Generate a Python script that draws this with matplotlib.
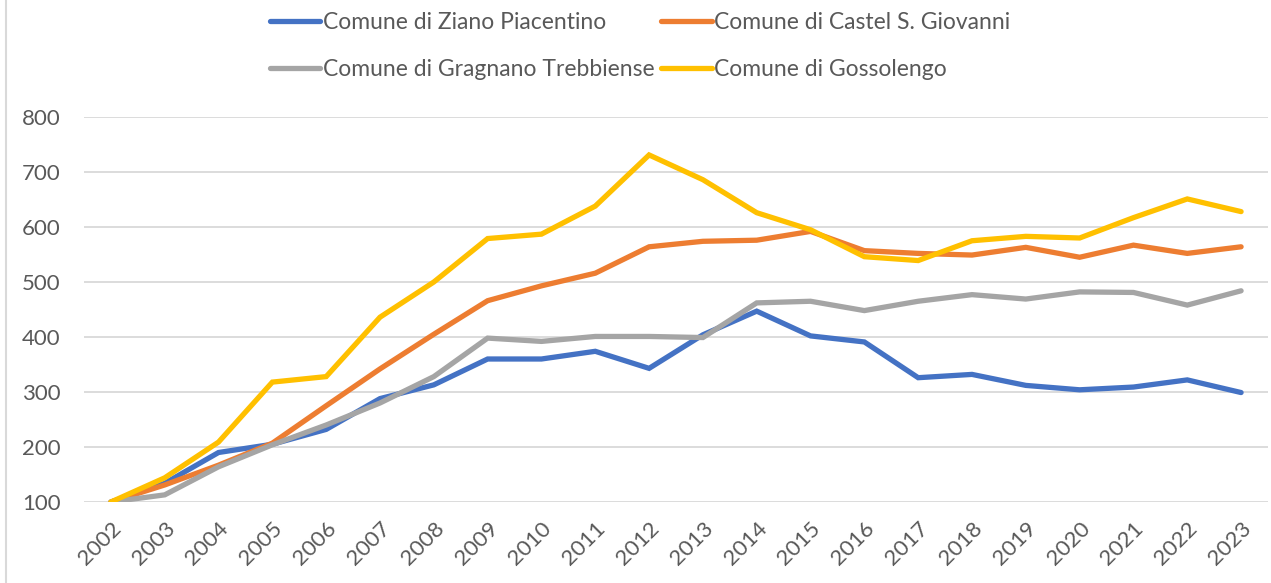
import numpy as np
import matplotlib.pyplot as plt
from matplotlib.lines import Line2D

plt.rcParams['font.family'] = ['Lato', 'DejaVu Sans']

anni = [str(a) for a in range(2002, 2024)]

# indici (2002 = 100)
ziano = [100, 134, 190, 205, 232, 288, 313, 360, 360, 374, 343,
         404, 447, 402, 391, 326, 332, 312, 304, 309, 322, 299]
castel = [100, 131, 167, 207, 275, 342, 405, 466, 493, 516, 564,
          574, 576, 592, 557, 552, 549, 563, 545, 567, 552, 564]
gragnano = [100, 113, 164, 204, 240, 280, 328, 398, 392, 401, 401,
            399, 462, 465, 448, 465, 477, 469, 482, 481, 458, 484]
gossolengo = [100, 144, 209, 318, 328, 436, 500, 579, 587, 638, 731,
              686, 626, 595, 546, 539, 575, 583, 580, 617, 651, 628]

nomi = ['Comune di Ziano Piacentino', 'Comune di Castel S. Giovanni',
        'Comune di Gragnano Trebbiense', 'Comune di Gossolengo']
colori = ['#4472C4', '#ED7D31', '#A5A5A5', '#FFC000']
testo = '#595959'

fig = plt.figure(figsize=(12.71, 5.83), dpi=100)
ax = fig.add_axes([84 / 1271, 1 - 502 / 583, 1184 / 1271, 385 / 583])

x = np.arange(len(anni))
linee = []
for serie, nome, col in zip([ziano, castel, gragnano, gossolengo], nomi, colori):
    l, = ax.plot(x, serie, color=col, lw=3.8, label=nome,
                 solid_joinstyle='miter', solid_capstyle='round')
    linee.append(l)

ax.set_xlim(-0.5, len(anni) - 0.5)
ax.set_ylim(100, 800)
ax.set_yticks(range(100, 801, 100))
ax.set_xticks(x)
ax.set_xticklabels(anni, rotation=45, ha='right', rotation_mode='anchor')
ax.tick_params(length=0, labelsize=16, colors=testo)
ax.tick_params(axis='y', pad=17)
ax.tick_params(axis='x', pad=12)
ax.grid(axis='y', color='#D9D9D9', lw=1.3)
ax.set_axisbelow(True)
for s in ax.spines.values():
    s.set_visible(False)

# legenda in due righe come in Excel
ordine = [0, 2, 1, 3]
fig.legend([linee[i] for i in ordine], [nomi[i] for i in ordine],
           loc='center', bbox_to_anchor=(640 / 1271, 1 - 46 / 583),
           ncol=2, frameon=False, fontsize=16.5, labelcolor=testo,
           handlelength=2.2, handletextpad=0.1, columnspacing=0.3,
           labelspacing=1.1)

# bordo sinistro del riquadro
fig.add_artist(Line2D([6 / 1271, 6 / 1271], [0, 1], color='#D9D9D9', lw=1.5))

fig.savefig('out.png', dpi=100)
